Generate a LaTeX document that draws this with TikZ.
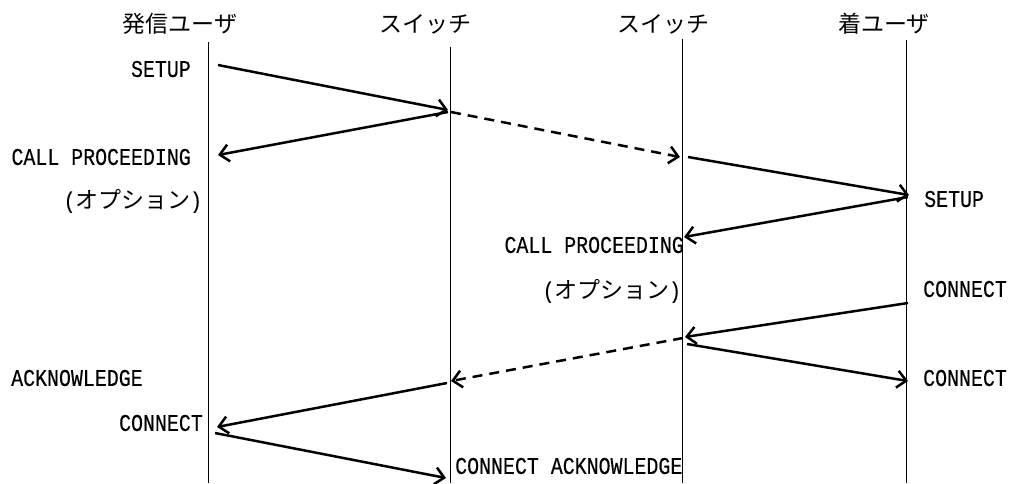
\documentclass[tikz,border=0pt]{standalone}
\usepackage{fontspec}
\usetikzlibrary{arrows.meta}
\newfontfamily\labfont[FakeStretch=0.83,FakeBold=0.25]{Liberation Mono}
\newfontfamily\jpfont{Noto Sans CJK JP}
\begin{document}
\begin{tikzpicture}[x=1pt,y=-1pt,
  lifeline/.style={line width=1pt, black},
  msg/.style={line width=2.5pt, -{Straight Barb[length=9pt,width=17pt,line width=2.5pt]}},
  dmsg/.style={msg, dash pattern=on 10pt off 7pt},
  hdr/.style={inner sep=0pt, font=\jpfont\fontsize{23}{23}\selectfont},
  lab/.style={inner sep=0pt, font=\labfont\fontsize{24}{24}\selectfont},
  opt/.style={inner sep=0pt, font=\jpfont\fontsize{23}{23}\selectfont}]
\useasboundingbox (0,0) rectangle (1009,483);
% headers
\node[hdr] (h1) at (180,24) {発信ユーザ};
\node[hdr] (h2) at (425,24) {スイッチ};
\node[hdr] (h3) at (663,24) {スイッチ};
\node[hdr] (h4) at (884,24) {着ユーザ};
% lifelines
\coordinate (l1t) at (208,42);  \coordinate (l1b) at (208,483);
\coordinate (l2t) at (450,47);  \coordinate (l2b) at (450,483);
\coordinate (l3t) at (682,39);  \coordinate (l3b) at (682,483);
\coordinate (l4t) at (906,40);  \coordinate (l4b) at (906,483);
\draw[lifeline] (l1t) -- (l1b);
\draw[lifeline] (l2t) -- (l2b);
\draw[lifeline] (l3t) -- (l3b);
\draw[lifeline] (l4t) -- (l4b);
% message end points
\coordinate (m1s) at (218,65);  \coordinate (m1e) at (448,110);
\coordinate (m2s) at (448,112); \coordinate (m2e) at (218,155);
\coordinate (m3s) at (451,112); \coordinate (m3e) at (680,157);
\coordinate (m4s) at (688,157); \coordinate (m4e) at (909,195);
\coordinate (m5s) at (908,197); \coordinate (m5e) at (684,237);
\coordinate (m6s) at (908,303); \coordinate (m6e) at (685,337);
\coordinate (m7s) at (683,338); \coordinate (m7e) at (451,381);
\coordinate (m8s) at (687,344); \coordinate (m8e) at (908,381);
\coordinate (m9s) at (447,383); \coordinate (m9e) at (217,427);
\coordinate (m10s) at (215,433); \coordinate (m10e) at (446,478);
\draw[msg] (m1s) -- (m1e);
\draw[msg] (m2s) -- (m2e);
\draw[dmsg] (m3s) -- (m3e);
\draw[msg] (m4s) -- (m4e);
\draw[msg] (m5s) -- (m5e);
\draw[msg] (m6s) -- (m6e);
\draw[dmsg] (m7s) -- (m7e);
\draw[msg] (m8s) -- (m8e);
\draw[msg] (m9s) -- (m9e);
\draw[msg] (m10s) -- (m10e);
% labels
\node[lab, anchor=east] (t1) at (191,69) {SETUP};
\node[lab, anchor=east] (t2) at (191,157) {CALL PROCEEDING};
\node[opt, anchor=east] (t3) at (202,201) {{\labfont(}オプション{\labfont)}};
\node[lab, anchor=west] (t4) at (924,199) {SETUP};
\node[lab, anchor=east] (t5) at (684,245) {CALL PROCEEDING};
\node[opt, anchor=east] (t6) at (681,291) {{\labfont(}オプション{\labfont)}};
\node[lab, anchor=west] (t7) at (923,289) {CONNECT};
\node[lab, anchor=west] (t8) at (923,378) {CONNECT};
\node[lab, anchor=west] (t9) at (11,378) {ACKNOWLEDGE};
\node[lab, anchor=east] (t10) at (203,423) {CONNECT};
\node[lab, anchor=west] (t11) at (455,466) {CONNECT ACKNOWLEDGE};
\end{tikzpicture}
\end{document}
